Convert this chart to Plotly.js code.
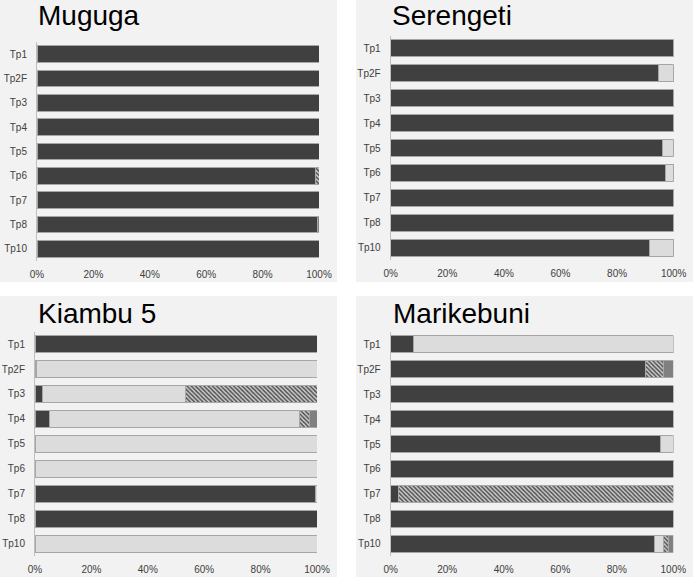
<!DOCTYPE html>
<html>
<head>
<meta charset="utf-8">
<script src="https://cdn.plot.ly/plotly-3.0.1.min.js"></script>
<style>
  body { margin: 0; background: #ffffff; }
  #chart { width: 693px; height: 577px; }
</style>
</head>
<body>
<div id="chart"></div>
<script>
var categories = ['Tp1', 'Tp2F', 'Tp3', 'Tp4', 'Tp5', 'Tp6', 'Tp7', 'Tp8', 'Tp10'];
var xTicks = [0, 20, 40, 60, 80, 100];
var xTickLabels = ['0%', '20%', '40%', '60%', '80%', '100%'];

// share (%) of each class per locus
var mugugaA = [100, 100, 100, 100, 100, 98.8, 100, 99.4, 100];
var mugugaB = [0, 0, 0, 0, 0, 0, 0, 0, 0];
var mugugaC = [0, 0, 0, 0, 0, 1.2, 0, 0, 0];
var mugugaD = [0, 0, 0, 0, 0, 0, 0, 0.6, 0];

var serengetiA = [100, 94.7, 100, 100, 96.1, 97.1, 100, 100, 91.4];
var serengetiB = [0, 5.3, 0, 0, 3.9, 2.9, 0, 0, 8.6];
var serengetiC = [0, 0, 0, 0, 0, 0, 0, 0, 0];
var serengetiD = [0, 0, 0, 0, 0, 0, 0, 0, 0];

var kiambuA = [100, 0.6, 2.7, 5.1, 0, 0, 99.3, 100, 0];
var kiambuB = [0, 99.4, 50.8, 88.8, 100, 100, 0.7, 0, 100];
var kiambuC = [0, 0, 46.5, 3.3, 0, 0, 0, 0, 0];
var kiambuD = [0, 0, 0, 2.8, 0, 0, 0, 0, 0];

var marikebuniA = [8.0, 90.2, 100, 100, 95.4, 100, 2.7, 100, 93.3];
var marikebuniB = [92.0, 0, 0, 0, 4.6, 0, 0, 0, 3.3];
var marikebuniC = [0, 6.4, 0, 0, 0, 0, 97.3, 0, 1.6];
var marikebuniD = [0, 3.4, 0, 0, 0, 0, 0, 0, 1.8];

var W = 693, H = 577;
var outline = { color: '#a6a6a6', width: 1 };
var styles = [
  { color: '#404040', line: outline },
  { color: '#dcdcdc', line: outline },
  { color: '#dcdcdc', line: outline,
    pattern: { shape: '\\', fgcolor: '#505050', bgcolor: '#d0d0d0', size: 3, solidity: 0.5 } },
  { color: '#808080', line: outline }
];

var panels = [
  { name: 'Muguga', series: [mugugaA, mugugaB, mugugaC, mugugaD],
    plot: [37, 319, 42, 261], box: [0, 337, 0, 282], title: [36, 16] },
  { name: 'Serengeti', series: [serengetiA, serengetiB, serengetiC, serengetiD],
    plot: [390.7, 673.7, 36, 260], box: [356, 693, 0, 282], title: [390, 16] },
  { name: 'Kiambu 5', series: [kiambuA, kiambuB, kiambuC, kiambuD],
    plot: [35, 317, 331.6, 556], box: [0, 337, 296, 577], title: [36, 313] },
  { name: 'Marikebuni', series: [marikebuniA, marikebuniB, marikebuniC, marikebuniD],
    plot: [390.7, 673.3, 332, 556], box: [356, 693, 296, 577], title: [390.5, 313] }
];

var data = [];
var layout = {
  width: W, height: H,
  margin: { l: 0, r: 0, t: 0, b: 0 },
  paper_bgcolor: '#ffffff',
  plot_bgcolor: 'rgba(0,0,0,0)',
  barmode: 'stack',
  bargap: 0.32,
  showlegend: false,
  font: { family: 'Liberation Sans, Arial, sans-serif', color: '#404040', size: 10 },
  shapes: [],
  annotations: []
};

panels.forEach(function(p, i) {
  var n = i === 0 ? '' : String(i + 1);
  p.series.forEach(function(vals, k) {
    data.push({
      type: 'bar', orientation: 'h',
      x: vals, y: categories,
      xaxis: 'x' + n, yaxis: 'y' + n,
      marker: styles[k],
      hoverinfo: 'x+y'
    });
  });
  layout['xaxis' + n] = {
    domain: [p.plot[0] / W, p.plot[1] / W],
    anchor: 'y' + n,
    range: [0, 100],
    tickmode: 'array',
    tickvals: xTicks,
    ticktext: xTickLabels,
    showgrid: false, zeroline: false, showline: false,
    ticks: '', ticklabelstandoff: 6,
    tickfont: { size: 10, color: '#404040' }
  };
  layout['yaxis' + n] = {
    domain: [1 - p.plot[3] / H, 1 - p.plot[2] / H],
    anchor: 'x' + n,
    type: 'category',
    categoryorder: 'array', categoryarray: categories,
    autorange: 'reversed',
    showgrid: false, zeroline: false,
    showline: true, linecolor: '#bfbfbf', linewidth: 1,
    ticks: '', ticklabelstandoff: 7,
    tickfont: { size: 10, color: '#404040' }
  };
  layout.shapes.push({
    type: 'rect', xref: 'paper', yref: 'paper', layer: 'below',
    x0: p.box[0] / W, x1: p.box[1] / W,
    y0: 1 - p.box[3] / H, y1: 1 - p.box[2] / H,
    fillcolor: '#f2f2f2', line: { width: 0 }
  });
  layout.annotations.push({
    text: p.name, xref: 'paper', yref: 'paper',
    x: p.title[0] / W, y: 1 - p.title[1] / H,
    xanchor: 'left', yanchor: 'middle', showarrow: false,
    font: { size: 28, color: '#000000', family: 'Liberation Sans, Arial, sans-serif' }
  });
});

Plotly.newPlot('chart', data, layout, { displayModeBar: false });
</script>
</body>
</html>
